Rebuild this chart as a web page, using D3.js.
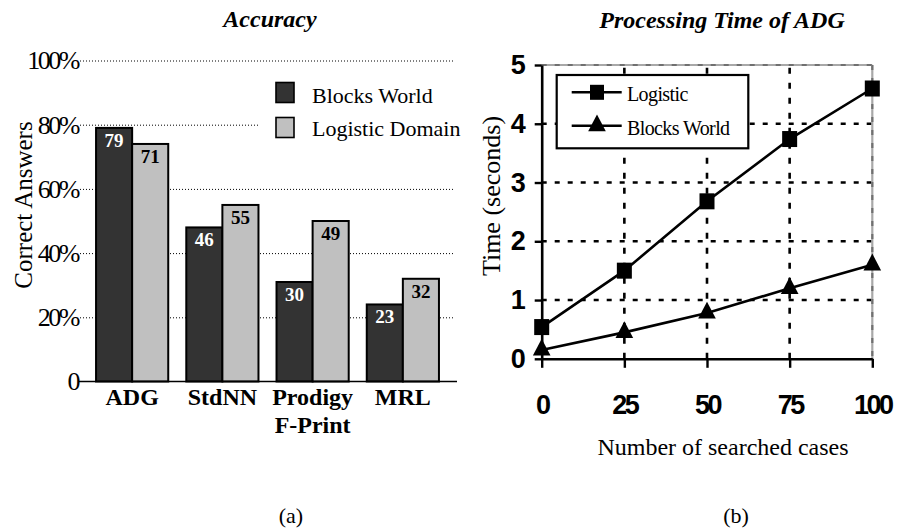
<!DOCTYPE html>
<html><head><meta charset="utf-8">
<script src="https://cdn.jsdelivr.net/npm/d3@7"></script>
<style>body{margin:0;background:#fff}svg{display:block}</style>
</head><body>
<svg id="c" width="897" height="531"></svg>
<script>
// ---------- data: (a) Accuracy ----------
const categories = ["ADG", "StdNN", "Prodigy\nF-Print", "MRL"];
const barSeries = ["Blocks World", "Logistic Domain"];
const blocksWorld = [79, 48, 31, 24];
const logisticDomain = [74, 55, 50, 32];
const blocksLabels = ["79", "46", "30", "23"];
const logisticLabels = ["71", "55", "49", "32"];
const accTicks = [0, 20, 40, 60, 80, 100];
const accTickLabels = ["0", "20%", "40%", "60%", "80%", "100%"];

// ---------- data: (b) Processing time ----------
const cases = [0, 25, 50, 75, 100];
const lineSeries = ["Logistic", "Blocks World"];
const logisticTime = [0.54, 1.5, 2.68, 3.74, 4.6];
const blocksTime = [0.15, 0.45, 0.78, 1.2, 1.6];
const timeTicks = [0, 1, 2, 3, 4, 5];

const svg = d3.select("#c");
const serif = "'Liberation Serif','Times New Roman',serif";
const sans = "'Liberation Sans',Arial,sans-serif";
const barColors = {"Blocks World": "#333333", "Logistic Domain": "#c0c0c0"};
const labelColors = {"Blocks World": "#ffffff", "Logistic Domain": "#000000"};

// =============== LEFT CHART ===============
const xL = d3.scaleBand().domain(categories).range([78, 457]).paddingInner(0.2).paddingOuter(0.2);
const xS = d3.scaleBand().domain(barSeries).range([0, xL.bandwidth()]);
const yL = d3.scaleLinear().domain([0, 100]).range([381.5, 60.5]);

const gL = svg.append("g");
const axL = gL.append("g").attr("transform", "translate(80,0)")
  .call(d3.axisLeft(yL).tickValues(accTicks).tickFormat((d, i) => accTickLabels[i])
    .tickSize(-(453 - 80)).tickPadding(2));
axL.select(".domain").remove();
axL.selectAll(".tick line").attr("stroke", "#000").attr("stroke-width", 1)
  .attr("stroke-dasharray", "1,2").attr("opacity", d => d === 0 ? 0 : 1);
axL.selectAll(".tick text").attr("font-family", serif).attr("font-size", 26)
  .attr("letter-spacing", "-2.5px").attr("fill", "#000");

// legend background (covers gridline)
gL.append("rect").attr("x", 258).attr("y", 70).attr("width", 197).attr("height", 78).attr("fill", "#fff");

// bars
const rows = categories.map((c, i) => [
  {cat: c, s: barSeries[0], v: blocksWorld[i], lab: blocksLabels[i]},
  {cat: c, s: barSeries[1], v: logisticDomain[i], lab: logisticLabels[i]}
]).flat();
gL.selectAll("rect.bar").data(rows).join("rect").attr("class", "bar")
  .attr("x", d => xL(d.cat) + xS(d.s)).attr("width", xS.bandwidth())
  .attr("y", d => yL(d.v)).attr("height", d => yL(0) - yL(d.v))
  .attr("fill", d => barColors[d.s]).attr("stroke", "#000").attr("stroke-width", 2);
gL.selectAll("text.val").data(rows).join("text").attr("class", "val")
  .attr("x", d => xL(d.cat) + xS(d.s) + xS.bandwidth() / 2)
  .attr("y", d => yL(d.v) + 19)
  .attr("text-anchor", "middle").attr("font-family", serif).attr("font-weight", "bold")
  .attr("font-size", 19).attr("fill", d => labelColors[d.s]).text(d => d.lab);

// baseline
gL.append("line").attr("x1", 78).attr("x2", 457).attr("y1", yL(0)).attr("y2", yL(0))
  .attr("stroke", "#000").attr("stroke-width", 1.6);

// category labels
gL.selectAll("text.cat").data(categories).join("text").attr("class", "cat")
  .attr("x", d => xL(d) + xL.bandwidth() / 2).attr("y", 405)
  .attr("text-anchor", "middle").attr("font-family", serif).attr("font-weight", "bold")
  .attr("font-size", 24)
  .each(function(d) {
    const lines = d.split("\n");
    d3.select(this).selectAll("tspan").data(lines).join("tspan")
      .attr("x", xL(d) + xL.bandwidth() / 2).attr("dy", (l, j) => j === 0 ? 0 : 28).text(l => l);
  });

// legend
const legL = gL.append("g");
barSeries.forEach((s, i) => {
  legL.append("rect").attr("x", 276).attr("y", 82.5 + i * 35).attr("width", 18).attr("height", 20)
    .attr("fill", barColors[s]).attr("stroke", "#000").attr("stroke-width", 1.6);
  legL.append("text").attr("x", 312).attr("y", 102.5 + i * 33).attr("font-family", serif)
    .attr("font-size", 22).attr("fill", "#000").text(s);
});

// titles
gL.append("text").attr("x", 270).attr("y", 27).attr("text-anchor", "middle")
  .attr("font-family", serif).attr("font-weight", "bold").attr("font-style", "italic")
  .attr("font-size", 24).text("Accuracy");
gL.append("text").attr("transform", "translate(32,205) rotate(-90)").attr("text-anchor", "middle")
  .attr("font-family", serif).attr("font-size", 25).text("Correct Answers");
gL.append("text").attr("x", 291).attr("y", 523).attr("text-anchor", "middle")
  .attr("font-family", serif).attr("font-size", 22).text("(a)");

// =============== RIGHT CHART ===============
const xR = d3.scaleLinear().domain([0, 100]).range([541.7, 872.3]);
const yR = d3.scaleLinear().domain([0, 5]).range([358.8, 65]);
const gR = svg.append("g");

gR.selectAll("line.hg").data(timeTicks.filter(d => d > 0 && d < 5)).join("line")
  .attr("x1", xR(0)).attr("x2", xR(100)).attr("y1", d => yR(d)).attr("y2", d => yR(d))
  .attr("stroke", "#000").attr("stroke-width", 2.6).attr("stroke-dasharray", "5,8");
gR.selectAll("line.vg").data(cases.filter(d => d > 0 && d < 100)).join("line")
  .attr("x1", d => xR(d)).attr("x2", d => xR(d)).attr("y1", yR(0)).attr("y2", yR(5))
  .attr("stroke", "#000").attr("stroke-width", 2.6).attr("stroke-dasharray", "6,9");
[[xR(0), yR(5), xR(100), yR(5)], [xR(100), yR(5), xR(100), yR(0)]].forEach(([a, b, c, d]) => {
  gR.append("line").attr("x1", a).attr("y1", b).attr("x2", c).attr("y2", d)
    .attr("stroke", "#a8a8a8").attr("stroke-width", 2.2);
  gR.append("line").attr("x1", a).attr("y1", b).attr("x2", c).attr("y2", d)
    .attr("stroke", "#707070").attr("stroke-width", 2.2).attr("stroke-dasharray", "5,8");
});

const axY = gR.append("g").attr("transform", `translate(${xR(0)},0)`)
  .call(d3.axisLeft(yR).tickValues(timeTicks).tickFormat(d3.format("d"))
    .tickSize(7).tickSizeOuter(0).tickPadding(9));
const axX = gR.append("g").attr("transform", `translate(0,${yR(0)})`)
  .call(d3.axisBottom(xR).tickValues(cases).tickFormat(d3.format("d"))
    .tickSize(9).tickSizeOuter(0).tickPadding(27));
[axY, axX].forEach(a => {
  a.select(".domain").attr("stroke", "#000").attr("stroke-width", 2.6);
  a.selectAll(".tick line").attr("stroke", "#000").attr("stroke-width", 2.4);
  a.selectAll(".tick text").attr("font-family", sans).attr("font-weight", "bold")
    .attr("font-size", 27).attr("fill", "#000");
});
axX.selectAll(".tick text").attr("letter-spacing", "-2.5px");

const line = d3.line().x((d, i) => xR(cases[i])).y(d => yR(d));
[logisticTime, blocksTime].forEach(arr => {
  gR.append("path").attr("d", line(arr)).attr("fill", "none").attr("stroke", "#000").attr("stroke-width", 2.6);
});
gR.selectAll("rect.sq").data(logisticTime).join("rect").attr("class", "sq")
  .attr("x", (d, i) => xR(cases[i]) - 7.5).attr("y", d => yR(d) - 8)
  .attr("width", 15).attr("height", 16).attr("fill", "#000");
const tri = d3.symbol().type(d3.symbolTriangle).size(135);
gR.selectAll("path.tri").data(blocksTime).join("path").attr("class", "tri")
  .attr("transform", (d, i) => `translate(${xR(cases[i])},${yR(d)}) scale(1,1.1)`)
  .attr("d", tri).attr("fill", "#000");

const legR = gR.append("g");
legR.append("rect").attr("x", 556.7).attr("y", 75).attr("width", 191.6).attr("height", 73.3)
  .attr("fill", "#fff").attr("stroke", "#000").attr("stroke-width", 2.2);
lineSeries.forEach((s, i) => {
  const y = 92.3 + i * 33.4;
  legR.append("line").attr("x1", 571.7).attr("x2", 621.7).attr("y1", y).attr("y2", y)
    .attr("stroke", "#000").attr("stroke-width", 2.6);
  if (i === 0) {
    legR.append("rect").attr("x", 597 - 7).attr("y", y - 7.5).attr("width", 14).attr("height", 15).attr("fill", "#000");
  } else {
    legR.append("path").attr("transform", `translate(597,${y}) scale(1,1.1)`).attr("d", tri).attr("fill", "#000");
  }
  legR.append("text").attr("x", 627).attr("y", y + 9).attr("font-family", serif)
    .attr("font-size", 20).attr("letter-spacing", "-0.6px").attr("fill", "#000").text(s);
});

gR.append("text").attr("x", 722).attr("y", 28).attr("text-anchor", "middle")
  .attr("font-family", serif).attr("font-weight", "bold").attr("font-style", "italic")
  .attr("font-size", 24).text("Processing Time of ADG");
gR.append("text").attr("transform", "translate(500,196) rotate(-90)").attr("text-anchor", "middle")
  .attr("font-family", serif).attr("font-size", 26).text("Time (seconds)");
gR.append("text").attr("x", 723).attr("y", 455).attr("text-anchor", "middle")
  .attr("font-family", serif).attr("font-size", 24).text("Number of searched cases");
gR.append("text").attr("x", 736).attr("y", 523).attr("text-anchor", "middle")
  .attr("font-family", serif).attr("font-size", 22).text("(b)");
</script>
</body></html>
